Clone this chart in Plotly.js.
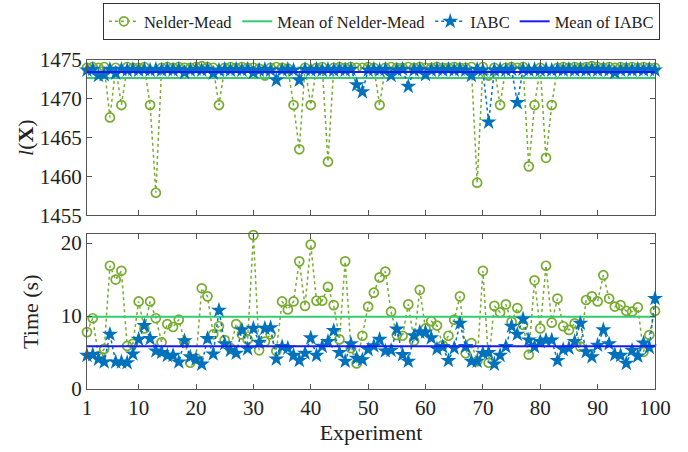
<!DOCTYPE html>
<html>
<head>
<meta charset="utf-8">
<script src="https://cdn.plot.ly/plotly-3.0.1.min.js"></script>
<style>html,body{margin:0;padding:0;background:#fff}#chart{width:688px;height:452px}</style>
</head>
<body>
<div id="chart"></div>
<script>
// Experiments 1..100
const experiments = Array.from({length: 100}, (_, i) => i + 1);
const xTickVals = [1, 10, 20, 30, 40, 50, 60, 70, 80, 90, 100];
const xTickText = ["1", "10", "20", "30", "40", "50", "60", "70", "80", "90", "100"];

// Objective l(X) - Nelder-Mead
const objNM = [
  1474.0, 1474.1, 1474.0, 1474.1, 1467.6, 1474.0, 1469.2, 1474.1, 1474.0, 1474.0,
  1474.1, 1469.2, 1457.9, 1474.0, 1474.1, 1474.0, 1474.1, 1474.0, 1474.0, 1474.1,
  1474.2, 1474.1, 1474.0, 1469.2, 1474.0, 1474.1, 1474.0, 1474.1, 1474.0, 1474.0,
  1473.9, 1473.0, 1474.0, 1474.1, 1474.0, 1473.9, 1469.2, 1463.5, 1474.0, 1469.2,
  1474.0, 1474.1, 1461.9, 1474.0, 1474.1, 1474.0, 1474.1, 1474.0, 1474.0, 1474.1,
  1474.0, 1469.2, 1474.0, 1474.1, 1474.0, 1474.0, 1474.1, 1474.0, 1474.1, 1474.0,
  1474.0, 1474.1, 1474.0, 1474.0, 1474.1, 1474.0, 1474.0, 1474.1, 1459.2, 1474.1,
  1473.0, 1474.0, 1469.2, 1474.0, 1474.1, 1474.0, 1474.1, 1461.3, 1469.2, 1474.0,
  1462.4, 1469.2, 1474.0, 1474.1, 1474.0, 1474.1, 1474.0, 1474.1, 1474.2, 1474.1,
  1474.0, 1474.1, 1474.0, 1474.1, 1474.0, 1474.1, 1474.0, 1474.1, 1474.0, 1474.0
];
// Objective l(X) - IABC
const objIABC = [
  1473.7, 1473.8, 1473.0, 1473.1, 1473.8, 1473.3, 1473.8, 1473.7, 1473.8, 1473.7,
  1473.8, 1473.7, 1473.8, 1473.7, 1473.8, 1473.7, 1473.8, 1473.4, 1473.7, 1473.8,
  1473.7, 1473.8, 1473.3, 1473.7, 1473.8, 1473.7, 1473.8, 1473.7, 1473.8, 1473.4,
  1473.7, 1473.8, 1473.7, 1472.4, 1473.7, 1473.8, 1473.7, 1472.4, 1473.8, 1473.7,
  1473.8, 1473.7, 1473.8, 1473.7, 1473.8, 1473.7, 1473.8, 1471.8, 1470.9, 1473.7,
  1473.8, 1473.7, 1473.8, 1473.0, 1473.7, 1473.8, 1471.6, 1473.7, 1473.8, 1473.1,
  1473.7, 1473.8, 1473.7, 1473.8, 1473.7, 1473.8, 1473.7, 1473.0, 1473.8, 1473.7,
  1467.0, 1473.7, 1473.8, 1473.7, 1473.8, 1469.5, 1473.8, 1473.7, 1473.8, 1473.7,
  1473.8, 1473.7, 1473.8, 1473.7, 1473.8, 1473.7, 1473.8, 1473.7, 1473.8, 1473.7,
  1473.8, 1473.7, 1473.4, 1473.7, 1473.8, 1473.7, 1473.8, 1473.7, 1473.8, 1473.7
];

// Time (s) - Nelder-Mead
const timeNM = [
  7.8, 9.7, 4.5, 5.5, 16.9, 15.0, 16.2, 5.9, 6.2, 12.0,
  8.3, 12.0, 9.7, 6.4, 8.9, 8.5, 9.5, 6.4, 3.6, 4.2,
  13.8, 12.7, 7.5, 8.6, 6.7, 5.6, 8.9, 7.5, 6.8, 21.1,
  5.3, 6.5, 7.5, 5.2, 12.0, 10.9, 12.0, 17.5, 11.4, 19.8,
  12.1, 12.1, 14.0, 11.5, 6.8, 17.5, 5.6, 3.5, 7.3, 11.3,
  13.2, 15.3, 16.1, 10.6, 7.4, 7.3, 11.6, 6.6, 13.6, 8.3,
  9.3, 8.7, 6.0, 7.3, 9.5, 12.7, 4.9, 6.3, 3.8, 16.2,
  3.6, 11.4, 10.5, 11.6, 9.2, 11.1, 8.8, 4.7, 14.9, 8.3,
  16.9, 9.1, 12.4, 8.6, 8.1, 9.0, 5.8, 12.2, 12.7, 12.0,
  15.6, 12.4, 11.3, 11.5, 10.7, 10.6, 11.2, 5.1, 7.4, 10.7
];
// Time (s) - IABC
const timeIABC = [
  4.6, 4.7, 4.1, 3.7, 7.5, 3.7, 3.7, 3.6, 4.8, 6.8,
  8.7, 6.9, 5.2, 5.0, 4.6, 4.6, 3.7, 6.6, 4.4, 4.1,
  3.4, 6.9, 4.8, 10.8, 6.2, 5.3, 4.9, 8.1, 5.5, 8.3,
  6.4, 8.3, 8.4, 4.1, 5.8, 5.6, 4.6, 3.9, 4.9, 7.0,
  4.6, 5.85, 6.5, 8.0, 5.0, 3.8, 6.2, 4.2, 4.0, 5.4,
  5.9, 6.8, 5.2, 5.3, 8.2, 4.7, 3.8, 7.3, 7.8, 7.8,
  7.0, 5.5, 5.8, 3.9, 5.6, 9.0, 5.8, 3.8, 3.8, 4.9,
  5.0, 3.4, 4.6, 5.8, 8.6, 7.5, 9.6, 6.7, 5.8, 6.5,
  6.7, 6.7, 3.9, 5.4, 5.6, 6.5, 9.0, 5.1, 4.4, 6.0,
  8.1, 6.2, 4.7, 4.6, 3.5, 5.3, 4.5, 6.3, 5.7, 12.4
];

// Means
const meanObjNM = 1472.67;
const meanObjIABC = 1473.45;
const meanTimeNM = 9.9;
const meanTimeIABC = 5.85;

const xSpan = [experiments[0], experiments[experiments.length - 1]];

const cNM = '#77AC30', cMeanNM = '#33CC70', cIABC = '#0072BD', cMeanIABC = '#1a1aff';
const fontFam = 'Liberation Serif';

const traces = [
  {x: experiments, y: objNM, xaxis: 'x2', yaxis: 'y2', mode: 'lines+markers', name: 'Nelder-Mead',
   line: {color: cNM, dash: 'dot', width: 1.5}, cliponaxis: false,
   marker: {symbol: 'circle-open', size: 9, color: cNM, line: {width: 1.7, color: cNM}}, legendgroup: 'a'},
  {x: xSpan, y: [meanObjNM, meanObjNM], xaxis: 'x2', yaxis: 'y2', mode: 'lines', name: 'Mean of Nelder-Mead',
   line: {color: cMeanNM, width: 2}, legendgroup: 'b'},
  {x: experiments, y: objIABC, xaxis: 'x2', yaxis: 'y2', mode: 'lines+markers', name: 'IABC',
   line: {color: cIABC, dash: 'dot', width: 1.5}, cliponaxis: false,
   marker: {symbol: 'star', size: 12, color: cIABC}, legendgroup: 'c'},
  {x: xSpan, y: [meanObjIABC, meanObjIABC], xaxis: 'x2', yaxis: 'y2', mode: 'lines', name: 'Mean of IABC',
   line: {color: cMeanIABC, width: 2}, legendgroup: 'd'},

  {x: experiments, y: timeNM, mode: 'lines+markers', name: 'Nelder-Mead', showlegend: false,
   line: {color: cNM, dash: 'dot', width: 1.5}, cliponaxis: false,
   marker: {symbol: 'circle-open', size: 9, color: cNM, line: {width: 1.7, color: cNM}}, legendgroup: 'a'},
  {x: xSpan, y: [meanTimeNM, meanTimeNM], mode: 'lines', name: 'Mean of Nelder-Mead', showlegend: false,
   line: {color: cMeanNM, width: 2}, legendgroup: 'b'},
  {x: experiments, y: timeIABC, mode: 'lines+markers', name: 'IABC', showlegend: false,
   line: {color: cIABC, dash: 'dot', width: 1.5}, cliponaxis: false,
   marker: {symbol: 'star', size: 12, color: cIABC}, legendgroup: 'c'},
  {x: xSpan, y: [meanTimeIABC, meanTimeIABC], mode: 'lines', name: 'Mean of IABC', showlegend: false,
   line: {color: cMeanIABC, width: 2}, legendgroup: 'd'}
];

function axisBase(extra) {
  return Object.assign({
    showline: true, linecolor: '#555', linewidth: 1, mirror: 'ticks',
    ticks: 'inside', ticklen: 5, tickcolor: '#555', showgrid: false, zeroline: false,
    tickfont: {family: fontFam, size: 21, color: '#222'}
  }, extra);
}

const layout = {
  width: 688, height: 452,
  margin: {l: 87, r: 33, t: 60, b: 63, autoexpand: false},
  paper_bgcolor: '#fff', plot_bgcolor: '#fff',
  font: {family: fontFam, size: 21, color: '#222'},
  showlegend: true,
  legend: {orientation: 'h', x: 0.028, xanchor: 'left', y: 1.173, yanchor: 'top',
    bordercolor: '#333', borderwidth: 1, font: {family: fontFam, size: 16.5, color: '#222'},
    itemwidth: 30, tracegroupgap: 0, traceorder: 'normal'},
  xaxis: axisBase({domain: [0, 1], anchor: 'y', range: [1, 100],
    tickmode: 'array', tickvals: xTickVals, ticktext: xTickText,
    title: {text: 'Experiment', font: {family: fontFam, size: 22, color: '#222'}, standoff: 2}}),
  yaxis: axisBase({domain: [0, 0.47], anchor: 'x', range: [0, 21.2],
    tickmode: 'array', tickvals: [0, 10, 20],
    title: {text: 'Time (s)', font: {family: fontFam, size: 22, color: '#222'}, standoff: 16}}),
  xaxis2: axisBase({domain: [0, 1], anchor: 'y2', range: [1, 100],
    tickmode: 'array', tickvals: xTickVals, showticklabels: false}),
  yaxis2: axisBase({domain: [0.528, 1], anchor: 'x2', range: [1455, 1475],
    tickmode: 'array', tickvals: [1455, 1460, 1465, 1470, 1475],
    title: {text: '<i>l</i>(<b>X</b>)', font: {family: fontFam, size: 22, color: '#222'}, standoff: 0}})
};

Plotly.newPlot('chart', traces, layout, {displayModeBar: false, staticPlot: true});
</script>
</body>
</html>
